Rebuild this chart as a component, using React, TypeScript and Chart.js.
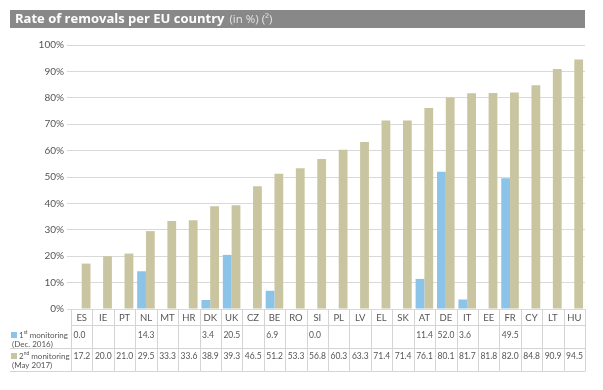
import { useEffect, useRef } from 'react';
import { Chart, registerables } from 'chart.js';

Chart.register(...registerables);

const countries = ['ES', 'IE', 'PT', 'NL', 'MT', 'HR', 'DK', 'UK', 'CZ', 'BE', 'RO', 'SI', 'PL', 'LV', 'EL', 'SK', 'AT', 'DE', 'IT', 'EE', 'FR', 'CY', 'LT', 'HU'];
const firstMonitoring: (number | null)[] = [0.0, null, null, 14.3, null, null, 3.4, 20.5, null, 6.9, null, 0.0, null, null, null, null, 11.4, 52.0, 3.6, null, 49.5, null, null, null];
const secondMonitoring: number[] = [17.2, 20.0, 21.0, 29.5, 33.3, 33.6, 38.9, 39.3, 46.5, 51.2, 53.3, 56.8, 60.3, 63.3, 71.4, 71.4, 76.1, 80.1, 81.7, 81.8, 82.0, 84.8, 90.9, 94.5];

const seriesOrdinals = ['1', '2'];
const seriesSuperscripts = ['st', 'nd'];
const seriesMain = [' monitoring', ' monitoring'];
const seriesSub = ['(Dec. 2016)', '(May 2017)'];
const seriesColors = ['#8cc3e8', '#c9c5a0'];

const titleBold = 'Rate of removals per EU country';
const titleLight = '(in %) (²)';

const FONT = 'Lato, "Open Sans", sans-serif';
const TITLE_FONT = '"Open Sans", Lato, sans-serif';
const TEXT = '#555555';
const LINE = '#d4d4d4';

const fmt = (v: number) => v.toFixed(1);

const tablePlugin = {
  id: 'tablePlugin',
  beforeDraw(chart: any) {
    const ctx = chart.ctx as CanvasRenderingContext2D;
    ctx.save();
    ctx.fillStyle = '#888888';
    ctx.fillRect(10, 10, 575, 18);
    ctx.textBaseline = 'middle';
    ctx.textAlign = 'left';
    ctx.fillStyle = '#ffffff';
    ctx.font = `bold 13px ${TITLE_FONT}`;
    ctx.fillText(titleBold, 15, 19.5);
    const w = ctx.measureText(titleBold).width;
    ctx.fillStyle = '#e4e4e4';
    ctx.font = `11.5px ${TITLE_FONT}`;
    ctx.fillText(titleLight, 15 + w + 5, 19.5);
    ctx.restore();
  },
  afterDraw(chart: any) {
    const ctx = chart.ctx as CanvasRenderingContext2D;
    const xs = chart.scales.x;
    const area = chart.chartArea;
    const n = countries.length;
    const cw = xs.getPixelForValue(1) - xs.getPixelForValue(0);
    const left = xs.getPixelForValue(0) - cw / 2;
    const right = xs.getPixelForValue(n - 1) + cw / 2;
    const y0 = area.bottom;
    const yHead = y0 + 16;
    const yRow1 = y0 + 39;
    const yRow2 = y0 + 62;

    ctx.save();
    ctx.strokeStyle = LINE;
    ctx.lineWidth = 1;
    const hline = (x1: number, y: number, x2: number) => {
      ctx.beginPath();
      ctx.moveTo(x1, Math.round(y) + 0.5);
      ctx.lineTo(x2, Math.round(y) + 0.5);
      ctx.stroke();
    };
    hline(left, yHead, right);
    hline(10, yRow1, right);
    hline(10, yRow2, right);
    for (let i = 0; i <= n; i++) {
      const xp = Math.round(left + i * cw) + 0.5;
      ctx.beginPath();
      ctx.moveTo(xp, y0);
      ctx.lineTo(xp, Math.round(yRow2) + 0.5);
      ctx.stroke();
    }

    // country codes
    ctx.fillStyle = TEXT;
    ctx.textBaseline = 'middle';
    ctx.textAlign = 'center';
    ctx.font = `9.5px ${FONT}`;
    countries.forEach((c, i) => {
      ctx.fillText(c, xs.getPixelForValue(i), y0 + 8.5);
    });

    // values
    ctx.textAlign = 'left';
    ctx.font = `8.5px ${FONT}`;
    const rows = [firstMonitoring, secondMonitoring];
    const rowY = [y0 + 26, y0 + 47];
    rows.forEach((vals, r) => {
      vals.forEach((v, i) => {
        if (v === null || v === undefined) return;
        ctx.fillText(fmt(v), left + i * cw + 2.5, rowY[r]);
      });
    });

    // legend labels
    rows.forEach((_, r) => {
      const yy = rowY[r];
      ctx.fillStyle = seriesColors[r];
      ctx.fillRect(11, yy - 3, 6, 6);
      ctx.fillStyle = TEXT;
      ctx.font = `8px ${FONT}`;
      let xx = 19;
      ctx.fillText(seriesOrdinals[r], xx, yy);
      xx += ctx.measureText(seriesOrdinals[r]).width;
      ctx.font = `5px ${FONT}`;
      ctx.fillText(seriesSuperscripts[r], xx, yy - 2.5);
      xx += ctx.measureText(seriesSuperscripts[r]).width;
      ctx.font = `8px ${FONT}`;
      ctx.fillText(seriesMain[r], xx, yy);
      ctx.fillText(seriesSub[r], 12, yy + 9);
    });
    ctx.restore();
  },
};

export default function App() {
  const ref = useRef<HTMLCanvasElement | null>(null);
  useEffect(() => {
    if (!ref.current) return;
    const chart = new Chart(ref.current, {
      type: 'bar',
      data: {
        labels: countries,
        datasets: [
          {
            label: '1st monitoring (Dec. 2016)',
            data: firstMonitoring,
            backgroundColor: seriesColors[0],
            borderWidth: 0,
            barPercentage: 1,
            categoryPercentage: 0.82,
          },
          {
            label: '2nd monitoring (May 2017)',
            data: secondMonitoring,
            backgroundColor: seriesColors[1],
            borderWidth: 0,
            barPercentage: 1,
            categoryPercentage: 0.82,
          },
        ],
      },
      options: {
        responsive: false,
        animation: false,
        layout: { padding: { top: 45, right: 18, bottom: 81, left: 0 } },
        plugins: {
          legend: { display: false },
          tooltip: { enabled: false },
          title: { display: false },
        },
        scales: {
          x: {
            display: false,
            offset: true,
          },
          y: {
            min: 0,
            max: 100,
            afterFit: (s: any) => {
              s.width = 71;
            },
            border: { display: false },
            grid: { color: '#d9d9d9', tickLength: 4, drawTicks: true },
            ticks: {
              stepSize: 10,
              padding: 3,
              color: TEXT,
              font: { family: FONT, size: 10 },
              callback: (v: any) => `${v}%`,
            },
          },
        },
      },
      plugins: [tablePlugin],
    });
    return () => chart.destroy();
  }, []);
  return (
    <div style={{ position: 'fixed', left: 0, top: 0, width: 603, height: 390, background: '#fff' }}>
      <canvas ref={ref} width={603} height={390} />
    </div>
  );
}
